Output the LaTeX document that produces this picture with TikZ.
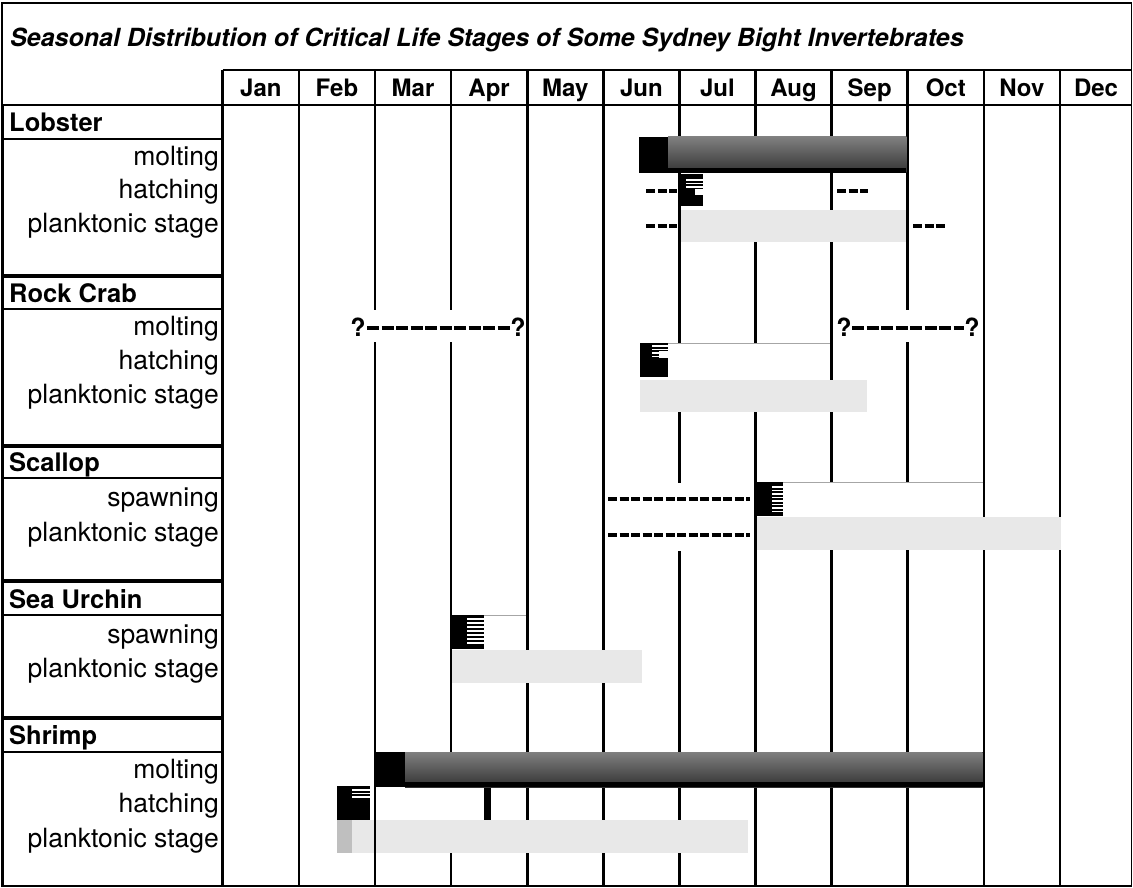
\documentclass[tikz,border=0pt]{standalone}
\usepackage{fontspec}
\setmainfont{TeX Gyre Heros}
\newcommand\hblock[8]{%
  \fill[black] (#1,#2) rectangle (#3,#4);
  \foreach \yy in {#6,#7,...,#8} \draw[white, line width=1.1pt] (#5,\yy) -- (#3,\yy);
}
\begin{document}
\begin{tikzpicture}[x=1pt,y=-1pt,
  gridline/.style={line width=2.6pt},
  frame/.style={line width=1.8pt},
  lbox/.style={line width=1.4pt},
  lab/.style={anchor=base east, font=\fontsize{26.5}{30}\selectfont, inner sep=0pt},
  head/.style={anchor=base west, font=\bfseries\fontsize{25.5}{30}\selectfont, inner sep=0pt},
  mon/.style={anchor=base, font=\bfseries\fontsize{24}{30}\selectfont, inner sep=0pt},
  qm/.style={anchor=base, font=\bfseries\fontsize{25}{30}\selectfont, inner sep=0pt},
  dsh/.style={line width=4pt, dash pattern=on 9pt off 2.5pt},
  qdsh/.style={line width=3.6pt, dash pattern=on 12pt off 2.5pt},
  plank/.style={fill=black!9},
  cover/.style={fill=white},
  molt/.style={top color=black!50, bottom color=black!80},
  boxtop/.style={draw=black!35, line width=1pt},
  ]
\useasboundingbox (0,0) rectangle (1133,888);
\fill[white] (0,0) rectangle (1133,888);

% month grid lines
\foreach \k in {1,...,11} \draw[gridline] ({222.8+76.1*\k},70) -- ({222.8+76.1*\k},886);

% label column boxes
\foreach \a/\b in {105/139, 139/275, 277/309, 309/445, 447/478, 478/580, 582/615, 615/717, 719/752, 752/886}
  \draw[lbox] (3,\a) rectangle (222.5,\b);

% header row and frame
\draw[frame] (222.5,70) -- (1131.5,70);
\draw[frame] (222.5,105) -- (1131.5,105);
\draw[gridline] (222.5,70) -- (222.5,886);
\draw[frame] (2,3) rectangle (1131.5,886);

% title
\node[anchor=base west, font=\bfseries\itshape\fontsize{25}{30}\selectfont, inner sep=0pt] (title) at (10,47)
  {Seasonal Distribution of Critical Life Stages of Some Sydney Bight Invertebrates};

% months
\foreach \m [count=\i from 0] in {Jan,Feb,Mar,Apr,May,Jun,Jul,Aug,Sep,Oct,Nov}
  \node[mon] (m\m) at ({222.8+76.1*(\i+0.5)},97) {\m};
\node[mon] (mDec) at (1096,97) {Dec};

% ---------- Lobster ----------
\fill[molt] (668,137) rectangle (906.4,173);
\fill[black] (668,168) rectangle (906.4,173);
\fill[black] (639,137) rectangle (668,173);
\draw[dsh] (646,191) -- (677,191);
\fill[cover] (680.7,173) rectangle (830.3,210);
\hblock{680.7}{174}{703}{206}{686}{180}{183.5}{190}
\fill[white] (695,189) rectangle (703,195);
\draw[dsh] (837,191) -- (868,191);
\draw[dsh] (646,226) -- (677,226);
\fill[plank] (680.7,210) rectangle (906.4,242);
\draw[dsh] (913,226) -- (945,226);

% ---------- Rock Crab ----------
\fill[cover] (350,310) rectangle (525,342);
\draw[qdsh] (367,328) -- (510,328);
\node[qm] (q1) at (358,336) {?};
\node[qm] (q2) at (518,336) {?};
\fill[cover] (836,310) rectangle (981,342);
\draw[qdsh] (852,328) -- (964,328);
\node[qm] (q3) at (844,336) {?};
\node[qm] (q4) at (972,336) {?};
\fill[cover] (640,343) rectangle (830.3,380);
\draw[boxtop] (640,343) -- (830.3,343);
\hblock{640}{343}{668}{377}{652}{346}{349.5}{357}
\fill[white] (659,351) rectangle (668,358);
\fill[plank] (640,380) rectangle (867,412);

% ---------- Scallop ----------
\fill[cover] (606,483) rectangle (754,551);
\draw[dsh] (608,499) -- (750,499);
\draw[dsh] (608,535) -- (750,535);
\fill[cover] (756.8,482) rectangle (982.5,517);
\draw[boxtop] (756.8,482) -- (982.5,482);
\hblock{756.8}{482}{783}{516}{772}{487}{490.5}{512}
\fill[plank] (756.8,517) rectangle (1061,550);

% ---------- Sea Urchin ----------
\fill[cover] (452.4,615) rectangle (525.9,649);
\draw[boxtop] (452.4,615) -- (525.9,615);
\hblock{452.4}{615}{484}{649}{467}{619}{623}{645}
\fill[plank] (452.4,650) rectangle (642,683);

% ---------- Shrimp ----------
\fill[molt] (405,752) rectangle (982.5,787);
\fill[black] (405,782) rectangle (982.5,787);
\fill[black] (376.3,752) rectangle (405,787);
\hblock{337}{786}{370}{820}{352}{790}{793.5}{798}
\fill[cover] (376.3,788) rectangle (484,820);
\fill[black] (484,788) rectangle (491,820);
\fill[black!25] (337,820) rectangle (352,853);
\fill[plank] (352,820) rectangle (373.7,853);
\fill[plank] (376.3,820) rectangle (748,853);

% ---------- labels ----------
\node[head] (hLob) at (9,132) {Lobster};
\node[lab] (lLm) at (219,165) {molting};
\node[lab] (lLh) at (219,199) {hatching};
\node[lab] (lLp) at (219,233) {planktonic stage};
\node[head] (hRc) at (9,302) {Rock Crab};
\node[lab] (lRm) at (219,335) {molting};
\node[lab] (lRh) at (219,369) {hatching};
\node[lab] (lRp) at (219,403) {planktonic stage};
\node[head] (hSc) at (9,471) {Scallop};
\node[lab] (lSs) at (219,506) {spawning};
\node[lab] (lSp) at (219,541) {planktonic stage};
\node[head] (hSu) at (9,608) {Sea Urchin};
\node[lab] (lUs) at (219,643) {spawning};
\node[lab] (lUp) at (219,677) {planktonic stage};
\node[head] (hSh) at (9,744) {Shrimp};
\node[lab] (lHm) at (219,778) {molting};
\node[lab] (lHh) at (219,812) {hatching};
\node[lab] (lHp) at (219,847) {planktonic stage};
\end{tikzpicture}
\end{document}
